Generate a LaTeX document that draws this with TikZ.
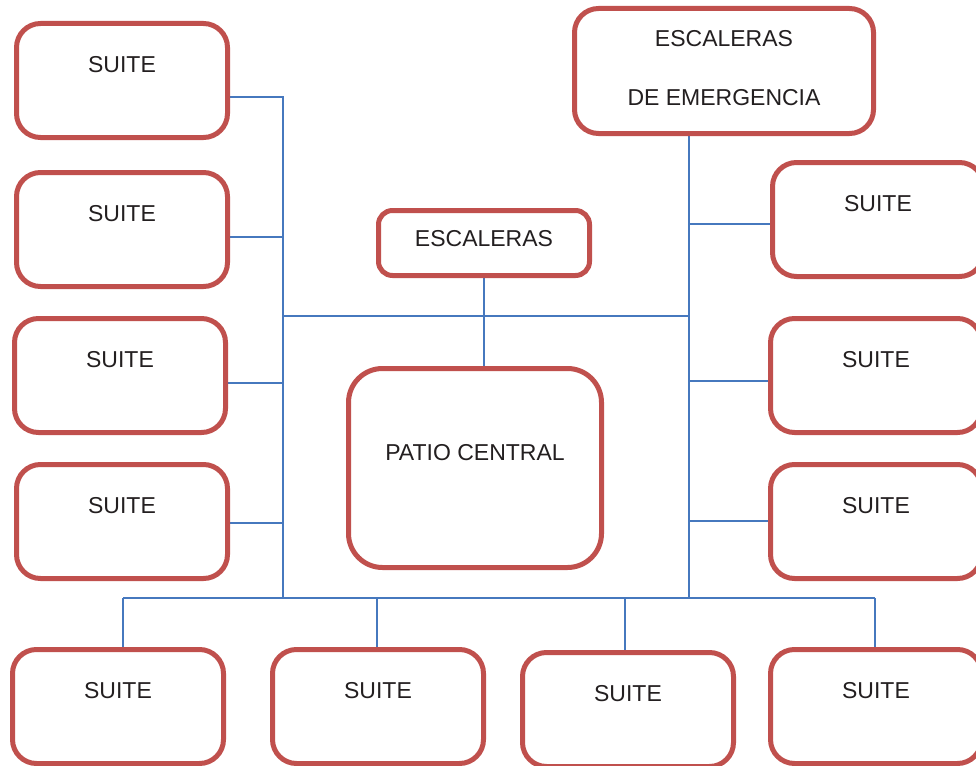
\documentclass[tikz,border=0pt]{standalone}
\usepackage{fontspec}
\setmainfont{Liberation Sans}
\usetikzlibrary{backgrounds}

\definecolor{boxred}{RGB}{192,80,77}
\definecolor{linkblue}{RGB}{70,120,190}
\definecolor{txtgray}{RGB}{35,31,32}

\tikzset{
  room/.style={draw=boxred, line width=5pt, rounded corners=24pt, fill=white,
    inner sep=0pt, outer sep=0pt, text=txtgray, anchor=north west},
  suite/.style={room, minimum width=211pt, text height=49pt, text depth=65pt},
  link/.style={draw=linkblue, line width=2pt},
}

\begin{document}
\begin{tikzpicture}[x=1pt, y=-1pt, font=\fontsize{23}{28}\selectfont]
  \useasboundingbox (0,0) rectangle (976,765);
  % left column
  \node[suite] (sl1) at (16.5,23.5) {SUITE};
  \node[suite] (sl2) at (16.5,172.5) {SUITE};
  \node[suite] (sl3) at (14.5,318.5) {SUITE};
  \node[suite] (sl4) at (16.5,464.5) {SUITE};
  % right column
  \node[room, minimum width=299pt, minimum height=125pt, align=center] (emerg) at (574.5,8.5)
    {ESCALERAS\\[31pt]DE EMERGENCIA\rule[-6pt]{0pt}{0pt}};
  \node[suite] (sr1) at (772.5,162.5) {SUITE};
  \node[suite] (sr2) at (770.5,318.5) {SUITE};
  \node[suite] (sr3) at (770.5,464.5) {SUITE};
  % centre
  \node[room, rounded corners=14pt, minimum width=211pt, text height=35.5pt, text depth=29.5pt]
    (stairs) at (378.5,210.5) {ESCALERAS};
  \node[room, rounded corners=34pt, minimum width=253pt, text height=91.5pt, text depth=107.5pt]
    (patio) at (348.5,368.5) {PATIO CENTRAL};
  % bottom row
  \node[suite] (sb1) at (12.5,649.5) {SUITE};
  \node[suite] (sb2) at (272.5,649.5) {SUITE};
  \node[suite] (sb3) at (522.5,652.5) {SUITE};
  \node[suite] (sb4) at (770.5,649.5) {SUITE};

  % junctions
  \coordinate (l1) at (283,97);
  \coordinate (l2) at (283,237);
  \coordinate (l3) at (283,383);
  \coordinate (l4) at (284,523);
  \coordinate (lbus) at (283,598);
  \coordinate (mid) at (283,316);
  \coordinate (rmid) at (689,316);
  \coordinate (r1) at (689,224);
  \coordinate (r2) at (689,381);
  \coordinate (r3) at (689,521);
  \coordinate (rbus) at (689,598);
  \coordinate (d1) at (123,598);
  \coordinate (d2) at (377,598);
  \coordinate (d3) at (625,598);
  \coordinate (d4) at (875,598);

  \begin{scope}[on background layer]
    \draw[link] (sl1.east |- l1) -- (l1) -- (lbus);
    \draw[link] (sl2.east |- l2) -- (l2);
    \draw[link] (sl3.east |- l3) -- (l3);
    \draw[link] (sl4.east |- l4) -- (l4);
    \draw[link] (mid) -- (rmid);
    \draw[link] (stairs.south) -- (stairs.south |- patio.north);
    \draw[link] (emerg.south -| rbus) -- (rbus);
    \draw[link] (r1) -- (sr1.west |- r1);
    \draw[link] (r2) -- (sr2.west |- r2);
    \draw[link] (r3) -- (sr3.west |- r3);
    \draw[link] (d1) -- (d4);
    \foreach \d/\b in {d1/sb1,d2/sb2,d3/sb3,d4/sb4}
      \draw[link] (\d) -- (\d |- \b.north);
  \end{scope}
\end{tikzpicture}
\end{document}
